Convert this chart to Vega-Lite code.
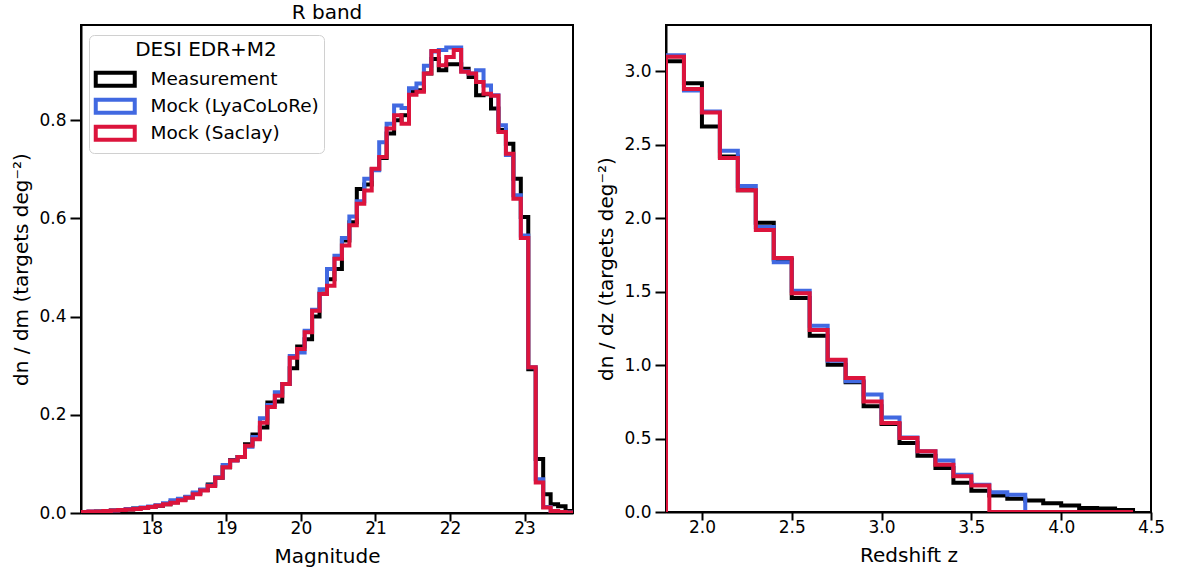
{
"$schema": "https://vega.github.io/schema/vega-lite/v6.json",
"padding": {"left": 10, "top": 2, "right": 0, "bottom": 0},
"background": "white",
"spacing": 21,
"resolve": {"scale": {"color": "independent"}, "legend": {"color": "independent"}},
"config": {
  "font": "DejaVu Sans",
  "view": {"stroke": "black", "strokeWidth": 2},
  "axis": {"grid": false, "domainColor": "black", "domainWidth": 2, "tickColor": "black", "tickWidth": 2, "labelFontSize": 17, "labelColor": "black", "titleFontSize": 20, "titleFontWeight": "normal", "titleColor": "black", "labelFlush": false},
  "axisX": {"tickSize": 8, "labelPadding": -1, "titlePadding": 10},
  "axisY": {"tickSize": 11, "labelPadding": 4, "titlePadding": 7},
  "title": {"fontSize": 20, "fontWeight": "normal", "color": "black"}
},
"datasets": {
"mag": [
{"m":17.05,"Measurement":0,"Mock (LyaCoLoRe)":0,"Mock (Saclay)":0},
{"m":17.05,"Measurement":0.002,"Mock (LyaCoLoRe)":0.002,"Mock (Saclay)":0.002},
{"m":17.15,"Measurement":0.002,"Mock (LyaCoLoRe)":0.003,"Mock (Saclay)":0.003},
{"m":17.25,"Measurement":0.003,"Mock (LyaCoLoRe)":0.003,"Mock (Saclay)":0.003},
{"m":17.35,"Measurement":0.004,"Mock (LyaCoLoRe)":0.004,"Mock (Saclay)":0.004},
{"m":17.45,"Measurement":0.005,"Mock (LyaCoLoRe)":0.005,"Mock (Saclay)":0.005},
{"m":17.55,"Measurement":0.006,"Mock (LyaCoLoRe)":0.006,"Mock (Saclay)":0.006},
{"m":17.65,"Measurement":0.007,"Mock (LyaCoLoRe)":0.008,"Mock (Saclay)":0.007},
{"m":17.75,"Measurement":0.009,"Mock (LyaCoLoRe)":0.009,"Mock (Saclay)":0.008},
{"m":17.85,"Measurement":0.010,"Mock (LyaCoLoRe)":0.011,"Mock (Saclay)":0.010},
{"m":17.95,"Measurement":0.012,"Mock (LyaCoLoRe)":0.013,"Mock (Saclay)":0.012},
{"m":18.05,"Measurement":0.015,"Mock (LyaCoLoRe)":0.016,"Mock (Saclay)":0.015},
{"m":18.15,"Measurement":0.018,"Mock (LyaCoLoRe)":0.020,"Mock (Saclay)":0.018},
{"m":18.25,"Measurement":0.022,"Mock (LyaCoLoRe)":0.026,"Mock (Saclay)":0.021},
{"m":18.35,"Measurement":0.027,"Mock (LyaCoLoRe)":0.029,"Mock (Saclay)":0.026},
{"m":18.45,"Measurement":0.032,"Mock (LyaCoLoRe)":0.033,"Mock (Saclay)":0.031},
{"m":18.55,"Measurement":0.040,"Mock (LyaCoLoRe)":0.042,"Mock (Saclay)":0.038},
{"m":18.65,"Measurement":0.047,"Mock (LyaCoLoRe)":0.048,"Mock (Saclay)":0.046},
{"m":18.75,"Measurement":0.058,"Mock (LyaCoLoRe)":0.056,"Mock (Saclay)":0.055},
{"m":18.85,"Measurement":0.072,"Mock (LyaCoLoRe)":0.073,"Mock (Saclay)":0.072},
{"m":18.95,"Measurement":0.093,"Mock (LyaCoLoRe)":0.098,"Mock (Saclay)":0.093},
{"m":19.05,"Measurement":0.108,"Mock (LyaCoLoRe)":0.107,"Mock (Saclay)":0.107},
{"m":19.15,"Measurement":0.114,"Mock (LyaCoLoRe)":0.114,"Mock (Saclay)":0.114},
{"m":19.25,"Measurement":0.140,"Mock (LyaCoLoRe)":0.135,"Mock (Saclay)":0.137},
{"m":19.35,"Measurement":0.160,"Mock (LyaCoLoRe)":0.155,"Mock (Saclay)":0.150},
{"m":19.45,"Measurement":0.174,"Mock (LyaCoLoRe)":0.193,"Mock (Saclay)":0.184},
{"m":19.55,"Measurement":0.225,"Mock (LyaCoLoRe)":0.220,"Mock (Saclay)":0.216},
{"m":19.65,"Measurement":0.227,"Mock (LyaCoLoRe)":0.246,"Mock (Saclay)":0.239},
{"m":19.75,"Measurement":0.263,"Mock (LyaCoLoRe)":0.263,"Mock (Saclay)":0.263},
{"m":19.85,"Measurement":0.295,"Mock (LyaCoLoRe)":0.320,"Mock (Saclay)":0.316},
{"m":19.95,"Measurement":0.339,"Mock (LyaCoLoRe)":0.327,"Mock (Saclay)":0.334},
{"m":20.05,"Measurement":0.354,"Mock (LyaCoLoRe)":0.371,"Mock (Saclay)":0.368},
{"m":20.15,"Measurement":0.400,"Mock (LyaCoLoRe)":0.414,"Mock (Saclay)":0.412},
{"m":20.25,"Measurement":0.447,"Mock (LyaCoLoRe)":0.456,"Mock (Saclay)":0.446},
{"m":20.35,"Measurement":0.476,"Mock (LyaCoLoRe)":0.497,"Mock (Saclay)":0.463},
{"m":20.45,"Measurement":0.497,"Mock (LyaCoLoRe)":0.524,"Mock (Saclay)":0.518},
{"m":20.55,"Measurement":0.555,"Mock (LyaCoLoRe)":0.560,"Mock (Saclay)":0.545},
{"m":20.65,"Measurement":0.592,"Mock (LyaCoLoRe)":0.604,"Mock (Saclay)":0.586},
{"m":20.75,"Measurement":0.660,"Mock (LyaCoLoRe)":0.635,"Mock (Saclay)":0.630},
{"m":20.85,"Measurement":0.669,"Mock (LyaCoLoRe)":0.681,"Mock (Saclay)":0.657},
{"m":20.95,"Measurement":0.700,"Mock (LyaCoLoRe)":0.698,"Mock (Saclay)":0.701},
{"m":21.05,"Measurement":0.723,"Mock (LyaCoLoRe)":0.755,"Mock (Saclay)":0.725},
{"m":21.15,"Measurement":0.773,"Mock (LyaCoLoRe)":0.793,"Mock (Saclay)":0.783},
{"m":21.25,"Measurement":0.800,"Mock (LyaCoLoRe)":0.830,"Mock (Saclay)":0.810},
{"m":21.35,"Measurement":0.810,"Mock (LyaCoLoRe)":0.825,"Mock (Saclay)":0.793},
{"m":21.45,"Measurement":0.858,"Mock (LyaCoLoRe)":0.865,"Mock (Saclay)":0.852},
{"m":21.55,"Measurement":0.861,"Mock (LyaCoLoRe)":0.875,"Mock (Saclay)":0.858},
{"m":21.65,"Measurement":0.895,"Mock (LyaCoLoRe)":0.911,"Mock (Saclay)":0.895},
{"m":21.75,"Measurement":0.925,"Mock (LyaCoLoRe)":0.940,"Mock (Saclay)":0.941},
{"m":21.85,"Measurement":0.902,"Mock (LyaCoLoRe)":0.943,"Mock (Saclay)":0.912},
{"m":21.95,"Measurement":0.914,"Mock (LyaCoLoRe)":0.948,"Mock (Saclay)":0.929},
{"m":22.05,"Measurement":0.914,"Mock (LyaCoLoRe)":0.948,"Mock (Saclay)":0.943},
{"m":22.15,"Measurement":0.905,"Mock (LyaCoLoRe)":0.900,"Mock (Saclay)":0.899},
{"m":22.25,"Measurement":0.888,"Mock (LyaCoLoRe)":0.895,"Mock (Saclay)":0.895},
{"m":22.35,"Measurement":0.851,"Mock (LyaCoLoRe)":0.902,"Mock (Saclay)":0.878},
{"m":22.45,"Measurement":0.853,"Mock (LyaCoLoRe)":0.871,"Mock (Saclay)":0.854},
{"m":22.55,"Measurement":0.824,"Mock (LyaCoLoRe)":0.851,"Mock (Saclay)":0.850},
{"m":22.65,"Measurement":0.780,"Mock (LyaCoLoRe)":0.790,"Mock (Saclay)":0.776},
{"m":22.75,"Measurement":0.752,"Mock (LyaCoLoRe)":0.729,"Mock (Saclay)":0.732},
{"m":22.85,"Measurement":0.681,"Mock (LyaCoLoRe)":0.647,"Mock (Saclay)":0.640},
{"m":22.95,"Measurement":0.603,"Mock (LyaCoLoRe)":0.565,"Mock (Saclay)":0.560},
{"m":23.05,"Measurement":0.293,"Mock (LyaCoLoRe)":0.297,"Mock (Saclay)":0.297},
{"m":23.15,"Measurement":0.110,"Mock (LyaCoLoRe)":0.069,"Mock (Saclay)":0.062},
{"m":23.25,"Measurement":0.038,"Mock (LyaCoLoRe)":0.012,"Mock (Saclay)":0.011},
{"m":23.35,"Measurement":0.018,"Mock (LyaCoLoRe)":0.004,"Mock (Saclay)":0.004},
{"m":23.45,"Measurement":0.014,"Mock (LyaCoLoRe)":0.002,"Mock (Saclay)":0.002},
{"m":23.55,"Measurement":0.004,"Mock (LyaCoLoRe)":0.001,"Mock (Saclay)":0.001},
{"m":23.65,"Measurement":0.004,"Mock (LyaCoLoRe)":0.001,"Mock (Saclay)":0.001},
{"m":23.65,"Measurement":0,"Mock (LyaCoLoRe)":0,"Mock (Saclay)":0}
],
"z": [
{"z":1.8,"Measurement":0,"Mock (LyaCoLoRe)":0,"Mock (Saclay)":0},
{"z":1.8,"Measurement":3.07,"Mock (LyaCoLoRe)":3.11,"Mock (Saclay)":3.10},
{"z":1.9,"Measurement":2.92,"Mock (LyaCoLoRe)":2.87,"Mock (Saclay)":2.88},
{"z":2.0,"Measurement":2.625,"Mock (LyaCoLoRe)":2.727,"Mock (Saclay)":2.72},
{"z":2.1,"Measurement":2.42,"Mock (LyaCoLoRe)":2.46,"Mock (Saclay)":2.41},
{"z":2.2,"Measurement":2.19,"Mock (LyaCoLoRe)":2.22,"Mock (Saclay)":2.19},
{"z":2.3,"Measurement":1.97,"Mock (LyaCoLoRe)":1.94,"Mock (Saclay)":1.92},
{"z":2.4,"Measurement":1.72,"Mock (LyaCoLoRe)":1.70,"Mock (Saclay)":1.73},
{"z":2.5,"Measurement":1.457,"Mock (LyaCoLoRe)":1.507,"Mock (Saclay)":1.49},
{"z":2.6,"Measurement":1.20,"Mock (LyaCoLoRe)":1.268,"Mock (Saclay)":1.24},
{"z":2.7,"Measurement":1.003,"Mock (LyaCoLoRe)":1.03,"Mock (Saclay)":1.037},
{"z":2.8,"Measurement":0.883,"Mock (LyaCoLoRe)":0.89,"Mock (Saclay)":0.912},
{"z":2.9,"Measurement":0.72,"Mock (LyaCoLoRe)":0.80,"Mock (Saclay)":0.753},
{"z":3.0,"Measurement":0.60,"Mock (LyaCoLoRe)":0.644,"Mock (Saclay)":0.606},
{"z":3.1,"Measurement":0.47,"Mock (LyaCoLoRe)":0.508,"Mock (Saclay)":0.504},
{"z":3.2,"Measurement":0.383,"Mock (LyaCoLoRe)":0.413,"Mock (Saclay)":0.413},
{"z":3.3,"Measurement":0.30,"Mock (LyaCoLoRe)":0.35,"Mock (Saclay)":0.322},
{"z":3.4,"Measurement":0.20,"Mock (LyaCoLoRe)":0.254,"Mock (Saclay)":0.243},
{"z":3.5,"Measurement":0.145,"Mock (LyaCoLoRe)":0.186,"Mock (Saclay)":0.18},
{"z":3.6,"Measurement":0.113,"Mock (LyaCoLoRe)":0.134,"Mock (Saclay)":0},
{"z":3.7,"Measurement":0.091,"Mock (LyaCoLoRe)":0.118,"Mock (Saclay)":0},
{"z":3.8,"Measurement":0.079,"Mock (LyaCoLoRe)":0,"Mock (Saclay)":0},
{"z":3.9,"Measurement":0.059,"Mock (LyaCoLoRe)":0,"Mock (Saclay)":0},
{"z":4.0,"Measurement":0.045,"Mock (LyaCoLoRe)":0,"Mock (Saclay)":0},
{"z":4.1,"Measurement":0.027,"Mock (LyaCoLoRe)":0,"Mock (Saclay)":0},
{"z":4.2,"Measurement":0.023,"Mock (LyaCoLoRe)":0,"Mock (Saclay)":0},
{"z":4.3,"Measurement":0.014,"Mock (LyaCoLoRe)":0,"Mock (Saclay)":0},
{"z":4.4,"Measurement":0.014,"Mock (LyaCoLoRe)":0,"Mock (Saclay)":0},
{"z":4.4,"Measurement":0,"Mock (LyaCoLoRe)":0,"Mock (Saclay)":0}
]
},
"hconcat": [
{
  "width": 492, "height": 488,
  "title": {"text": "R band", "offset": 2},
  "data": {"name": "mag"},
  "transform": [{"fold": ["Measurement", "Mock (LyaCoLoRe)", "Mock (Saclay)"], "as": ["series", "dn"]}],
  "encoding": {
    "x": {"field": "m", "type": "quantitative", "scale": {"domain": [17.05, 23.65], "nice": false, "zero": false}, "axis": {"values": [18, 19, 20, 21, 22, 23], "format": "d", "title": "Magnitude"}},
    "y": {"field": "dn", "type": "quantitative", "scale": {"domain": [0, 0.994], "nice": false}, "axis": {"values": [0, 0.2, 0.4, 0.6, 0.8], "format": ".1f", "title": "dn / dm (targets deg⁻²)"}},
    "color": {"field": "series", "type": "nominal",
      "scale": {"domain": ["Measurement", "Mock (LyaCoLoRe)", "Mock (Saclay)"], "range": ["#000000", "#4169E1", "#DC143C"]},
      "legend": {"orient": "none", "legendX": 8, "legendY": 10, "title": "DESI EDR+M2", "titleFontSize": 20, "titleFontWeight": "normal", "titleColor": "black", "titleAnchor": "middle", "titlePadding": 10, "labelFontSize": 18.5, "labelColor": "black", "labelLimit": 0, "symbolType": "M-3,-1H3V1H-3Z", "symbolSize": 169, "symbolStrokeWidth": 4, "symbolFillColor": "white", "symbolOffset": 12, "labelOffset": 26, "fillColor": "white", "strokeColor": "#d0d0d0", "cornerRadius": 5, "padding": 5, "rowPadding": -3}}
  },
  "layer": [
    {"transform": [{"filter": {"field": "series", "equal": "Measurement"}}], "mark": {"type": "line", "interpolate": "step-after", "strokeWidth": 4, "clip": true}},
    {"transform": [{"filter": {"field": "series", "equal": "Mock (LyaCoLoRe)"}}], "mark": {"type": "line", "interpolate": "step-after", "strokeWidth": 4, "clip": true}},
    {"transform": [{"filter": {"field": "series", "equal": "Mock (Saclay)"}}], "mark": {"type": "line", "interpolate": "step-after", "strokeWidth": 4, "clip": true}}
  ]
},
{
  "width": 485, "height": 487,
  "data": {"name": "z"},
  "transform": [{"fold": ["Measurement", "Mock (LyaCoLoRe)", "Mock (Saclay)"], "as": ["series", "dn"]}],
  "encoding": {
    "x": {"field": "z", "type": "quantitative", "scale": {"domain": [1.8, 4.5], "nice": false, "zero": false}, "axis": {"values": [2, 2.5, 3, 3.5, 4, 4.5], "format": ".1f", "title": "Redshift z"}},
    "y": {"field": "dn", "type": "quantitative", "scale": {"domain": [0, 3.316], "nice": false}, "axis": {"values": [0, 0.5, 1, 1.5, 2, 2.5, 3], "format": ".1f", "title": "dn / dz (targets deg⁻²)"}},
    "color": {"field": "series", "type": "nominal",
      "scale": {"domain": ["Measurement", "Mock (LyaCoLoRe)", "Mock (Saclay)"], "range": ["#000000", "#4169E1", "#DC143C"]},
      "legend": null}
  },
  "layer": [
    {"transform": [{"filter": {"field": "series", "equal": "Measurement"}}], "mark": {"type": "line", "interpolate": "step-after", "strokeWidth": 4, "clip": true}},
    {"transform": [{"filter": {"field": "series", "equal": "Mock (LyaCoLoRe)"}}], "mark": {"type": "line", "interpolate": "step-after", "strokeWidth": 4, "clip": true}},
    {"transform": [{"filter": {"field": "series", "equal": "Mock (Saclay)"}}], "mark": {"type": "line", "interpolate": "step-after", "strokeWidth": 4, "clip": true}}
  ]
}
]
}
